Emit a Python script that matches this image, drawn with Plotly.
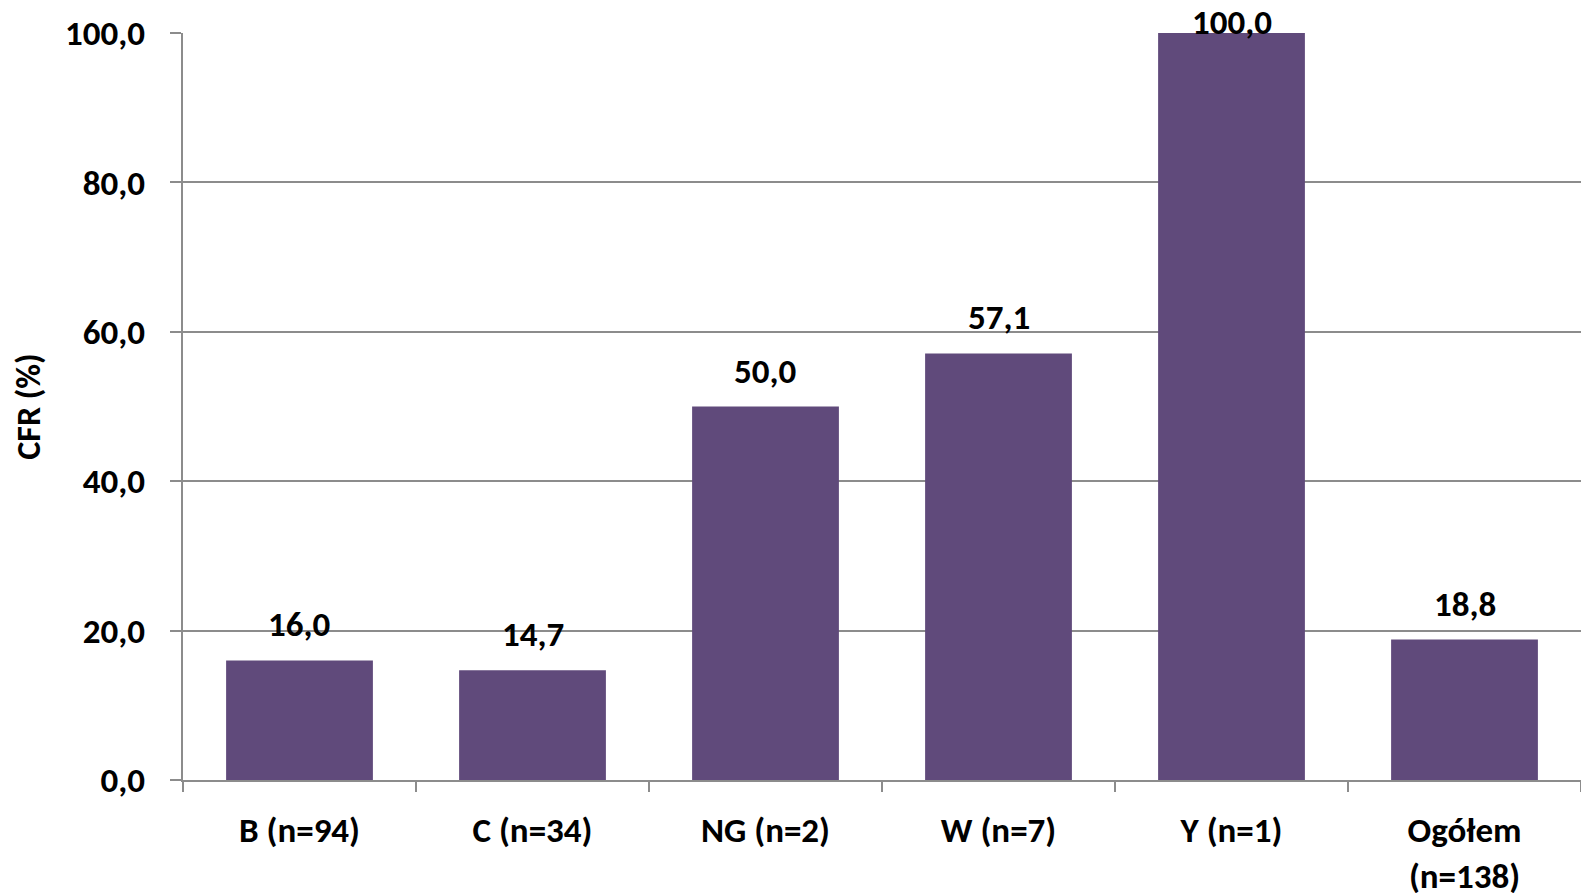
import plotly.graph_objects as go

categories = ["B (n=94)", "C (n=34)", "NG (n=2)", "W (n=7)", "Y (n=1)", "Ogółem<br>(n=138)"]
cfr_values = [16.0, 14.7, 50.0, 57.1, 100.0, 18.8]
y_ticks = [0, 20, 40, 60, 80, 100]

FONT = "Carlito, Lato, sans-serif"
BAR = "#604a7b"
GRID = "#8c8c8c"
FS = 35

fig = go.Figure()
fig.add_trace(go.Bar(
    x=categories, y=cfr_values,
    marker=dict(color=BAR, line=dict(width=0)),
    width=0.63,
    hoverinfo="skip",
))

for c, v in zip(categories, cfr_values):
    fig.add_annotation(
        x=c, y=v, xref="x", yref="y",
        text=f"{v:.1f}".replace(".", ","),
        showarrow=False, yanchor="middle",
        yshift=11 if v >= max(y_ticks) else 36,
        font=dict(family=FONT, size=FS, color="black", weight="bold"),
    )

fig.update_layout(
    width=1573, height=885,
    margin=dict(l=175, r=0, t=25, b=113),
    plot_bgcolor="white", paper_bgcolor="white",
    separators=", ",
    showlegend=False,
    font=dict(family=FONT, size=FS, color="black", weight="bold"),
)
fig.update_xaxes(
    automargin=False,
    showline=True, linecolor=GRID, linewidth=2,
    ticks="outside", tickson="boundaries", ticklen=10, tickwidth=2, tickcolor=GRID,
    ticklabelstandoff=18,
    tickfont=dict(family=FONT, size=FS, color="black", weight="bold"),
    showgrid=False,
)
fig.update_yaxes(
    automargin=False,
    range=[0, 100], tickvals=y_ticks, tickformat=".1f",
    showline=True, linecolor=GRID, linewidth=2,
    showgrid=True, gridcolor=GRID, gridwidth=2,
    ticks="outside", ticklen=11, tickwidth=2, tickcolor=GRID,
    ticklabelstandoff=18,
    tickfont=dict(family=FONT, size=FS, color="black", weight="bold"),
    title=dict(text="CFR (%)", standoff=18,
               font=dict(family=FONT, size=34, color="black", weight="bold")),
    zeroline=False,
)

fig.write_html("out.html")
